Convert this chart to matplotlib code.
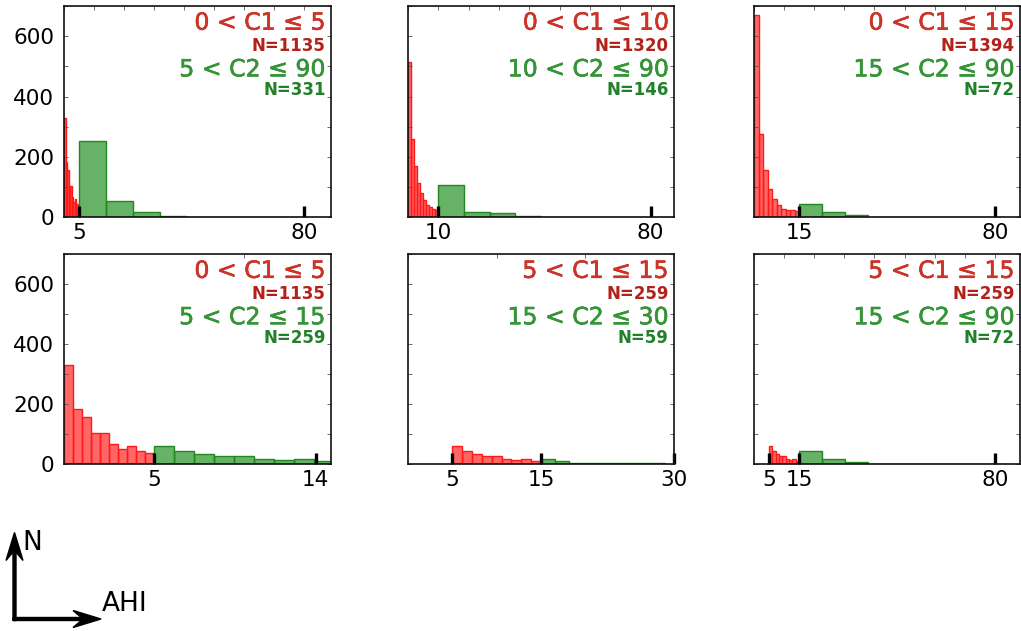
import numpy as np
import matplotlib
matplotlib.use("Agg")
import matplotlib.pyplot as plt
import matplotlib.patheffects as pe
from matplotlib.patches import FancyArrow
from matplotlib.ticker import MultipleLocator

# AHI histograms, counts per bin (group 1 = red, group 2 = green)
c1_0_5 = [330, 183, 157, 103, 104, 67, 52, 60, 43, 36]       # 0..5, 10 bins
c1_0_10 = [513, 260, 171, 112, 79, 56, 42, 33, 29, 25]       # 0..10, 10 bins
c1_0_15 = [670, 276, 157, 93, 61, 42, 27, 25, 23, 20]        # 0..15, 10 bins
g_5_15 = [62, 44, 33, 29, 29, 18, 14, 18, 12]                # 5..15, 9 bins
c2_5_90 = [252, 54, 16, 4, 2, 1, 1, 0, 1]                    # 5..85.5, 9 bins
c2_10_90 = [106, 19, 13, 3, 2, 1, 1, 0, 1]                   # 10..86, 9 bins
c2_15_90 = [43, 16, 8, 2, 1, 1, 0, 0, 1]                     # 15..83.8, 9 bins
c2_15_30 = [17, 10, 5, 4, 5, 4, 4, 5, 5]                     # 15..29, 9 bins

# histogram ranges (lo, hi) of the bins
rng_0_5 = (0, 5)
rng_0_10 = (0, 10)
rng_0_15 = (0, 15)
rng_5_15 = (5, 15)
rng_5_90 = (5, 85.5)
rng_10_90 = (10, 86)
rng_15_90 = (15, 83.8)
rng_15_30 = (15, 29)

panels = [
    dict(red=(c1_0_5, rng_0_5), green=(c2_5_90, rng_5_90), xmax=89,
         ticks=[5, 80], t1="0 < C1 \u2264 5", n1=1135, t2="5 < C2 \u2264 90", n2=331),
    dict(red=(c1_0_10, rng_0_10), green=(c2_10_90, rng_10_90), xmax=87.7,
         ticks=[10, 80], t1="0 < C1 \u2264 10", n1=1320, t2="10 < C2 \u2264 90", n2=146),
    dict(red=(c1_0_15, rng_0_15), green=(c2_15_90, rng_15_90), xmax=88.3,
         ticks=[15, 80], t1="0 < C1 \u2264 15", n1=1394, t2="15 < C2 \u2264 90", n2=72),
    dict(red=(c1_0_5, rng_0_5), green=(g_5_15, rng_5_15), xmax=14.85,
         ticks=[5, 14], t1="0 < C1 \u2264 5", n1=1135, t2="5 < C2 \u2264 15", n2=259),
    dict(red=(g_5_15, rng_5_15), green=(c2_15_30, rng_15_30), xmax=30,
         ticks=[5, 15, 30], t1="5 < C1 \u2264 15", n1=259, t2="15 < C2 \u2264 30", n2=59),
    dict(red=(g_5_15, rng_5_15), green=(c2_15_90, rng_15_90), xmax=88.3,
         ticks=[5, 15, 80], t1="5 < C1 \u2264 15", n1=259, t2="15 < C2 \u2264 90", n2=72),
]

yticks = list(range(0, 701, 100))
ylabels = ["0", "", "200", "", "400", "", "600", ""]

RED_TXT, RED_EDGE = "#cf3326", "#b3221a"
GREEN_TXT, GREEN_EDGE = "#359635", "#22802a"

W, H = 1021, 631
fig = plt.figure(figsize=(W / 100, H / 100), dpi=100)

lefts = [64, 408, 754]
widths = [267, 266, 266]
tops = [6, 254.3]
heights = [211.3, 210]


def draw_hist(ax, counts, rng, face, edge):
    edges = np.linspace(rng[0], rng[1], len(counts) + 1)
    ax.bar(edges[:-1], counts, width=np.diff(edges), align="edge",
           facecolor=face, edgecolor=edge, linewidth=1.0)


def label(ax, y, s, size, color, edge, weight="normal", stroke=0.4):
    effects = [pe.withStroke(linewidth=stroke, foreground=edge)] if stroke else None
    ax.text(0.98, y, s, transform=ax.transAxes, ha="right", va="baseline",
            fontsize=size, fontweight=weight, color=color, path_effects=effects)


for i, p in enumerate(panels):
    row, col = divmod(i, 3)
    ax = fig.add_axes([lefts[col] / W, 1 - (tops[row] + heights[row]) / H,
                       widths[col] / W, heights[row] / H])

    draw_hist(ax, *p["red"], face=(1, 0, 0, 0.6), edge="#ff1a1a")
    draw_hist(ax, *p["green"], face=(0, 0.5, 0, 0.6), edge="#1f881f")

    ax.set_xlim(0, p["xmax"])
    ax.set_ylim(0, 700)

    # labelled thick ticks on the bottom, plain ticks every 10 on top
    ax.xaxis.remove_overlapping_locs = False
    ax.set_xticks(p["ticks"])
    ax.set_xticklabels([str(t) for t in p["ticks"]])
    ax.xaxis.set_minor_locator(MultipleLocator(10))
    ax.tick_params(axis="x", which="major", direction="in", length=8, width=2.4,
                   color="black", top=False, bottom=True, labelsize=15.5, pad=4)
    ax.tick_params(axis="x", which="minor", direction="in", length=3, width=0.6,
                   color="#555555", top=True, bottom=False)

    ax.set_yticks(yticks)
    if col == 0:
        ax.set_yticklabels(ylabels)
    ax.tick_params(axis="y", direction="in", length=3, width=0.6, color="#555555",
                   left=True, right=True, labelleft=(col == 0), labelsize=15.5, pad=7)

    for s in ax.spines.values():
        s.set_linewidth(1.2)
        s.set_color("#111111")

    label(ax, 0.888, p["t1"], 17, RED_TXT, RED_EDGE)
    label(ax, 0.786, "N=%d" % p["n1"], 12, RED_EDGE, RED_EDGE, "bold", stroke=0)
    label(ax, 0.667, p["t2"], 17, GREEN_TXT, GREEN_EDGE)
    label(ax, 0.577, "N=%d" % p["n2"], 12, GREEN_EDGE, GREEN_EDGE, "bold", stroke=0)

# axis key in the lower left corner, drawn in pixel units
ov = fig.add_axes([0, 0, 1, 1], zorder=-1)
ov.set_xlim(0, W)
ov.set_ylim(H, 0)
ov.axis("off")
ov.add_patch(FancyArrow(14.5, 620.5, 0, -88, width=3, head_width=17, head_length=28,
                        overhang=0.3, length_includes_head=True, color="black"))
ov.add_patch(FancyArrow(13, 619, 88, 0, width=3, head_width=17, head_length=28,
                        overhang=0.3, length_includes_head=True, color="black"))
ov.text(22, 550, "N", fontsize=19, va="baseline", ha="left")
ov.text(102, 611, "AHI", fontsize=19, va="baseline", ha="left")

fig.savefig("out.png", dpi=100)
